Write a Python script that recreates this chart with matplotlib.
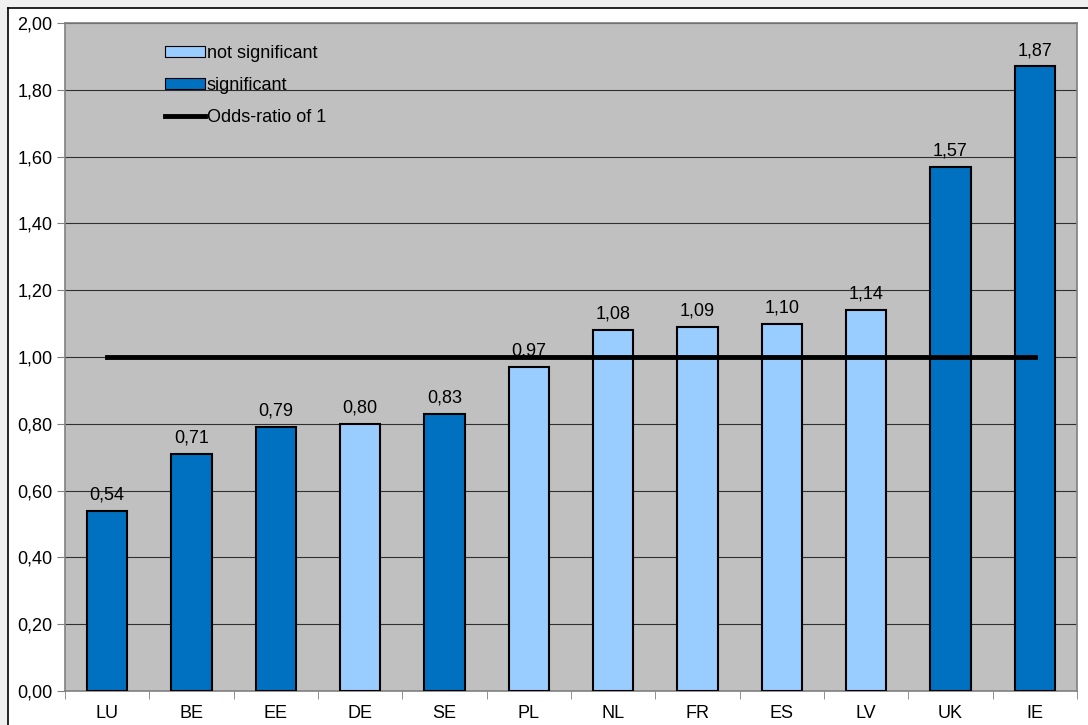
import matplotlib.pyplot as plt
from matplotlib.patches import Patch, Rectangle
from matplotlib.lines import Line2D

countries = ["LU", "BE", "EE", "DE", "SE", "PL", "NL", "FR", "ES", "LV", "UK", "IE"]
odds = [0.54, 0.71, 0.79, 0.80, 0.83, 0.97, 1.08, 1.09, 1.10, 1.14, 1.57, 1.87]
significant = [True, True, True, False, True, False, False, False, False, False, True, True]
y_ticks = [0.0, 0.2, 0.4, 0.6, 0.8, 1.0, 1.2, 1.4, 1.6, 1.8, 2.0]
ref_value = 1.0

dark = "#0070C0"
light = "#99CCFF"

plt.rcParams['font.family'] = ['Liberation Sans', 'DejaVu Sans']
plt.rcParams['font.size'] = 13

fig = plt.figure(figsize=(10.88, 7.25), dpi=100, facecolor="#F0F0F0")
# white chart area with black top/left edge
fig.patches.append(Rectangle((8 / 1088, 0), 1, 1 - 8 / 725, transform=fig.transFigure,
                             facecolor="white", edgecolor="none", zorder=-10))
fig.add_artist(Line2D([8 / 1088, 1], [1 - 7.5 / 725] * 2, color="black", lw=1.2, transform=fig.transFigure))
fig.add_artist(Line2D([8 / 1088] * 2, [0, 1 - 7.5 / 725], color="black", lw=1.2, transform=fig.transFigure))

ax = fig.add_axes([65 / 1088, 1 - 691 / 725, (1077 - 65) / 1088, (691 - 23) / 725])
ax.set_facecolor("#C0C0C0")

x = list(range(len(countries)))
colors = [dark if s else light for s in significant]
ax.bar(x, odds, width=0.48, color=colors, edgecolor="black", linewidth=1.5, zorder=3)
for xi, v in zip(x, odds):
    ax.text(xi, v + 0.022, f"{v:.2f}".replace(".", ","), ha="center", va="bottom",
            fontsize=13, zorder=5)

ax.plot([x[0], x[-1]], [ref_value, ref_value], color="black", lw=3.5, zorder=4)

ax.set_xlim(-0.5, len(countries) - 0.5)
ax.set_ylim(0, 2.0)
ax.set_yticks(y_ticks)
ax.set_yticklabels([f"{t:.2f}".replace(".", ",") for t in y_ticks])
ax.yaxis.grid(True, color="#303030", lw=0.8, zorder=1)
ax.set_axisbelow(True)

ax.set_xticks(x)
ax.set_xticklabels(countries)
ax.set_xticks([i - 0.5 for i in range(len(countries) + 1)], minor=True)
ax.tick_params(axis="x", which="major", length=0, pad=10)
ax.tick_params(axis="x", which="minor", length=6, color="#808080", direction="out")
ax.tick_params(axis="y", length=6, color="#808080", pad=3)
for sp in ax.spines.values():
    sp.set_color("#808080")
    sp.set_linewidth(1.2)

handles = [Patch(facecolor=light, edgecolor="black", lw=0.8),
           Patch(facecolor=dark, edgecolor="black", lw=0.8),
           Line2D([], [], color="black", lw=3.5)]
ax.legend(handles, ["not significant", "significant", "Odds-ratio of 1"],
          frameon=False, loc="upper left", bbox_to_anchor=(0.083, 0.992),
          handlelength=2.2, handleheight=0.55, handletextpad=0.1, labelspacing=0.85,
          fontsize=13)

fig.savefig("out.png", dpi=100, facecolor=fig.get_facecolor())
